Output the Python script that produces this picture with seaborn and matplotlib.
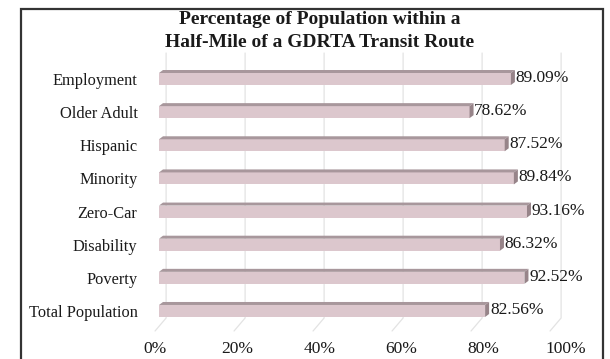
import matplotlib
matplotlib.use("Agg")
import matplotlib.pyplot as plt
import seaborn as sns
import pandas as pd
from matplotlib.patches import Polygon, Rectangle
from matplotlib.lines import Line2D

categories = ["Employment", "Older Adult", "Hispanic", "Minority",
              "Zero-Car", "Disability", "Poverty", "Total Population"]
values = [89.09, 78.62, 87.52, 89.84, 93.16, 86.32, 92.52, 82.56]
tick_values = [0, 20, 40, 60, 80, 100]
tick_labels = ["0%", "20%", "40%", "60%", "80%", "100%"]
title = "Percentage of Population within a\nHalf-Mile of a GDRTA Transit Route"

sns.set_theme(style="white")
plt.rcParams['font.family'] = ['Liberation Serif', 'DejaVu Serif']

W, H = 610, 359
fig = plt.figure(figsize=(W / 100, H / 100), dpi=100)
fig.patch.set_facecolor("white")

ax_l, ax_r, ax_t, ax_b = 150, 585, 48, 338
ax = fig.add_axes([ax_l / W, 1 - ax_b / H, (ax_r - ax_l) / W, (ax_b - ax_t) / H])

x0px, sx = 159.0, 3.95
y0px, sy = 79.0, 33.14
ax_xlim = ((ax_l - x0px) / sx, (ax_r - x0px) / sx)
ax_ylim = ((ax_b - y0px) / sy, (ax_t - y0px) / sy)

front = "#dcc7cd"
topc = "#a8979c"
sidec = "#978489"
gridc = "#e3e3e3"

df = pd.DataFrame({"category": categories, "value": values})
bh = 12 / sy
sns.barplot(data=df, x="value", y="category", orient="h", color=front,
            saturation=1, width=bh, ax=ax, edgecolor="none", zorder=3)

ax.set_xlim(*ax_xlim)
ax.set_ylim(*ax_ylim)

dx = 4.0 / sx
dy = 3.0 / sy

for p in list(ax.patches):
    xs, w, ys, h = p.get_x(), p.get_width(), p.get_y(), p.get_height()
    ytop = ys
    top = Polygon([(xs, ytop), (xs + w, ytop), (xs + w + dx, ytop - dy), (xs + dx, ytop - dy)],
                  closed=True, facecolor=topc, edgecolor="none", zorder=3)
    side = Polygon([(xs + w, ytop), (xs + w + dx, ytop - dy), (xs + w + dx, ytop + h - dy), (xs + w, ytop + h)],
                   closed=True, facecolor=sidec, edgecolor="none", zorder=3)
    ax.add_patch(top)
    ax.add_patch(side)

back_off = 1.8
front_off = -1.0
y_top = (53 - y0px) / sy
y_back = (318 - y0px) / sy
y_front = (331 - y0px) / sy
for v in tick_values:
    ax.add_line(Line2D([v + back_off, v + back_off, v + front_off],
                       [y_top, y_back, y_front], color=gridc, lw=0.9, zorder=1))

for i, v in enumerate(values):
    ax.text(v + dx + 0.2, i - 0.03, f"{v:.2f}%", va="center", ha="left",
            fontsize=12.5, color="#1a1a1a", zorder=5)

tick_pos = [((155 + 82.2 * k) - x0px) / sx for k in range(len(tick_values))]
ax.set_xticks(tick_pos)
ax.set_xticklabels(tick_labels, fontsize=12.5, color="#1a1a1a")
ax.tick_params(axis="x", length=0, pad=2)
ax.tick_params(axis="y", length=0, pad=9, labelsize=11.8, labelcolor="#1a1a1a")
ax.set_xlabel("")
ax.set_ylabel("")
for s in ax.spines.values():
    s.set_visible(False)
ax.grid(False)

fig.text(320 / W, 1 - 31 / H, title, ha="center", va="center",
         fontsize=14, fontweight="bold", color="#1a1a1a", linespacing=1.4)

fig.patches.append(Rectangle((21 / W, -0.05), (603 - 21) / W, 1.05 - 9 / H,
                             transform=fig.transFigure, fill=False,
                             edgecolor="#333333", lw=1.6, zorder=10))

fig.savefig("out.png", dpi=100)
